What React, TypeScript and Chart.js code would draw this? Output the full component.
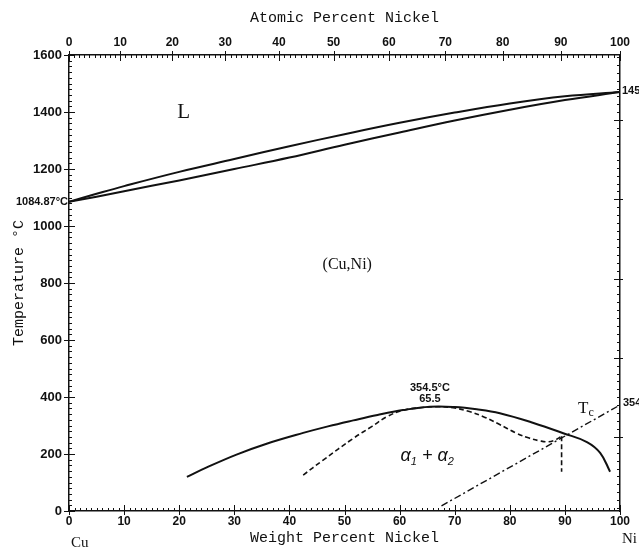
import React, { useEffect, useRef } from 'react';
import { Chart, registerables } from 'chart.js';

Chart.register(...registerables);

// ---------- data ----------
const weightTicks = [0, 10, 20, 30, 40, 50, 60, 70, 80, 90, 100];
const atomicTicks = [0, 10, 20, 30, 40, 50, 60, 70, 80, 90, 100];
const tempTicks = [0, 200, 400, 600, 800, 1000, 1200, 1400, 1600];

const liquidusWt = [0, 5, 10, 20, 30, 40, 50, 60, 70, 80, 90, 100];
const liquidusT = [1085, 1113, 1140, 1190, 1235, 1280, 1322, 1362, 1398, 1430, 1455, 1470];

const solidusWt = [0, 5, 10, 20, 30, 40, 50, 60, 70, 80, 90, 100];
const solidusT = [1085, 1103, 1122, 1160, 1200, 1240, 1285, 1328, 1370, 1408, 1442, 1470];

const gapWt = [21.4, 25, 30.4, 36, 42.5, 47, 51.6, 56, 60.6, 65.5, 70, 74, 78.2, 84.3, 89.7, 94, 96.4, 98.2];
const gapT = [120, 153, 198, 237, 274, 297, 318, 337, 354, 366, 365, 357, 343, 309, 273, 242, 204, 138];

const spinodalWt = [42.5, 46, 51.6, 55, 57.7, 60.6, 64, 67, 69.7, 72.5, 75.2, 78, 81.2, 83.5, 85.5, 87, 88.3, 89.4];
const spinodalT = [126, 177, 255, 297, 331, 353, 363, 366, 362, 350, 331, 305, 273, 256, 246, 243, 250, 262];

const spinodalDropWt = [89.4, 89.4];
const spinodalDropT = [262, 138];

const curieWt = [67.6, 100];
const curieT = [18, 372];

// ---------- helpers ----------
const MASS_CU = 63.546;
const MASS_NI = 58.693;
const atToWt = (a: number) =>
  a <= 0 ? 0 : a >= 100 ? 100 : (100 * a * MASS_NI) / (a * MASS_NI + (100 - a) * MASS_CU);

const INK = '#111111';
const NARROW = "'Liberation Sans Narrow', 'Arial Narrow', 'Liberation Sans', Arial, sans-serif";
const SERIF = "'Liberation Serif', 'DejaVu Serif', serif";
const MONO = "'Liberation Mono', 'DejaVu Sans Mono', monospace";

const pts = (xs: number[], ys: number[]) => xs.map((x, i) => ({ x, y: ys[i] }));

const tickPlugin = {
  id: 'phaseTicks',
  afterDatasetsDraw(chart: any) {
    const { ctx, chartArea, scales } = chart;
    const { left, right, top, bottom } = chartArea;
    const x = scales.x;
    const y = scales.y;
    const y2 = scales.y2;
    ctx.save();
    ctx.strokeStyle = INK;
    ctx.lineWidth = 1;
    ctx.beginPath();
    for (let w = 0; w <= 100; w++) {
      const px = Math.round(x.getPixelForValue(w)) + 0.5;
      const major = w % 10 === 0;
      ctx.moveTo(px, bottom + (major ? 4 : 0));
      ctx.lineTo(px, bottom - (major ? 6 : 3));
    }
    for (let a = 0; a <= 100; a++) {
      const px = Math.round(x.getPixelForValue(atToWt(a))) + 0.5;
      const major = a % 10 === 0;
      ctx.moveTo(px, top - (major ? 4 : 0));
      ctx.lineTo(px, top + (major ? 6 : 3));
    }
    for (let t = 0; t <= 1600; t += 20) {
      const py = Math.round(y.getPixelForValue(t)) + 0.5;
      const major = t % 200 === 0;
      ctx.moveTo(left - (major ? 5 : 0), py);
      ctx.lineTo(left + (major ? 6 : 3), py);
    }
    for (let f = 50; f <= 2900; f += 50) {
      const py = Math.round(y2.getPixelForValue(f)) + 0.5;
      const major = f % 500 === 0;
      ctx.moveTo(right + (major ? 3 : 0), py);
      ctx.lineTo(right - (major ? 6 : 3), py);
    }
    ctx.stroke();
    ctx.restore();
  },
};

const labelPlugin = {
  id: 'phaseLabels',
  afterDraw(chart: any) {
    const { ctx, chartArea, scales } = chart;
    const x = scales.x;
    const y = scales.y;
    const X = (v: number) => x.getPixelForValue(v);
    const Y = (v: number) => y.getPixelForValue(v);
    ctx.save();
    ctx.fillStyle = INK;

    // region labels
    ctx.textAlign = 'center';
    ctx.textBaseline = 'middle';
    ctx.font = `21px ${SERIF}`;
    ctx.fillText('L', X(20.8), Y(1400));
    ctx.font = `16px ${SERIF}`;
    ctx.fillText('(Cu,Ni)', X(50.5), Y(863));

    // critical point
    ctx.font = `bold 11px ${NARROW}`;
    ctx.fillText('354.5°C', X(65.5), Y(432));
    ctx.fillText('65.5', X(65.5), Y(393));

    // alpha1 + alpha2
    const parts: [string, number, number][] = [
      ['α', 18, 0], ['1', 11, 4], [' + ', 18, 0], ['α', 18, 0], ['2', 11, 4],
    ];
    ctx.textAlign = 'left';
    ctx.textBaseline = 'alphabetic';
    let total = 0;
    for (const [s, size] of parts) {
      ctx.font = `italic ${size}px ${NARROW}`;
      total += ctx.measureText(s).width;
    }
    let cx = X(65) - total / 2;
    const base = Y(196) + 6;
    for (const [s, size, dy] of parts) {
      ctx.font = `italic ${size}px ${NARROW}`;
      ctx.fillText(s, cx, base + dy);
      cx += ctx.measureText(s).width;
    }

    // Tc
    ctx.font = `17px ${SERIF}`;
    const tx = X(92.4);
    const ty = Y(344);
    ctx.fillText('T', tx, ty);
    const tw = ctx.measureText('T').width;
    ctx.font = `12px ${SERIF}`;
    ctx.fillText('c', tx + tw, ty + 3);

    // axis end values
    ctx.font = `bold 11px ${NARROW}`;
    ctx.textBaseline = 'middle';
    ctx.textAlign = 'right';
    ctx.fillText('1084.87°C', chartArea.left - 1, Y(liquidusT[0]));
    ctx.textAlign = 'left';
    ctx.fillText('1455', chartArea.right + 2, Y(liquidusT[liquidusT.length - 1]) - 1);
    ctx.fillText('354', chartArea.right + 3, Y(curieT[curieT.length - 1]) - 2);

    // element names
    ctx.font = `15px ${SERIF}`;
    ctx.textBaseline = 'alphabetic';
    ctx.fillText('Cu', chartArea.left + 2, 547);
    ctx.fillText('Ni', chartArea.right + 2, 543);
    ctx.restore();
  },
};

export default function App() {
  const canvasRef = useRef<HTMLCanvasElement | null>(null);

  useEffect(() => {
    const canvas = canvasRef.current;
    if (!canvas) return;
    const solid = {
      showLine: true,
      pointRadius: 0,
      borderColor: INK,
      borderWidth: 2,
      fill: false,
      tension: 0.4,
    };
    const tickFont = { family: NARROW, size: 12, weight: 'bold' as const };
    const titleFont = { family: MONO, size: 15 };
    const border = { display: true, color: INK, width: 1.5 };
    const grid = { display: false, drawTicks: false };

    const chart = new Chart(canvas, {
      type: 'line',
      data: {
        datasets: [
          { ...solid, label: 'Liquidus', data: pts(liquidusWt, liquidusT) },
          { ...solid, label: 'Solidus', data: pts(solidusWt, solidusT) },
          { ...solid, label: 'Miscibility gap', data: pts(gapWt, gapT) },
          { ...solid, label: 'Spinodal', borderWidth: 1.6, borderDash: [5, 3], data: pts(spinodalWt, spinodalT) },
          { ...solid, label: 'Spinodal end', borderWidth: 1.6, borderDash: [5, 3], tension: 0, data: pts(spinodalDropWt, spinodalDropT) },
          { ...solid, label: 'Tc', borderWidth: 1.4, borderDash: [7, 3, 2, 3], tension: 0, data: pts(curieWt, curieT) },
        ] as any,
      },
      options: {
        responsive: false,
        animation: false,
        devicePixelRatio: 1,
        layout: { padding: 0 },
        plugins: { legend: { display: false }, tooltip: { enabled: false } },
        scales: {
          x: {
            type: 'linear',
            position: 'bottom',
            min: 0,
            max: 100,
            afterBuildTicks: (axis: any) => {
              axis.ticks = weightTicks.map((v) => ({ value: v }));
            },
            afterFit: (s: any) => {
              s.height = 37;
            },
            ticks: { autoSkip: false, maxRotation: 0, font: tickFont, color: INK, padding: 3, callback: (v: any) => String(v) },
            grid,
            border,
            title: { display: true, text: 'Weight Percent Nickel', font: titleFont, color: INK, padding: { top: 0, bottom: 1 } },
          },
          x2: {
            type: 'linear',
            position: 'top',
            min: 0,
            max: 100,
            afterBuildTicks: (axis: any) => {
              axis.ticks = atomicTicks.map((a) => ({ value: atToWt(a) }));
            },
            afterFit: (s: any) => {
              s.height = 55;
            },
            ticks: {
              autoSkip: false,
              maxRotation: 0,
              font: tickFont,
              color: INK,
              padding: 5,
              callback: (_v: any, i: number) => String(atomicTicks[i]),
            },
            grid,
            border,
            title: { display: true, text: 'Atomic Percent Nickel', font: titleFont, color: INK, padding: { top: 9, bottom: 0 } },
          },
          y: {
            type: 'linear',
            position: 'left',
            min: 0,
            max: 1600,
            afterBuildTicks: (axis: any) => {
              axis.ticks = tempTicks.map((v) => ({ value: v }));
            },
            afterFit: (s: any) => {
              s.width = 69;
            },
            ticks: { autoSkip: false, font: { ...tickFont, size: 13 }, color: INK, padding: 7, callback: (v: any) => String(v) },
            grid,
            border,
            title: { display: true, text: 'Temperature °C', font: titleFont, color: INK, padding: { top: 10, bottom: 0 } },
          },
          y2: {
            type: 'linear',
            position: 'right',
            min: 32,
            max: 2912,
            afterFit: (s: any) => {
              s.width = 19;
            },
            ticks: { display: false },
            grid,
            border,
          },
        },
      } as any,
      plugins: [tickPlugin, labelPlugin],
    });
    return () => chart.destroy();
  }, []);

  return (
    <div style={{ position: 'absolute', left: 0, top: 0, width: 639, height: 548, background: '#fff', overflow: 'hidden' }}>
      <canvas ref={canvasRef} width={639} height={548} style={{ display: 'block' }} />
    </div>
  );
}
